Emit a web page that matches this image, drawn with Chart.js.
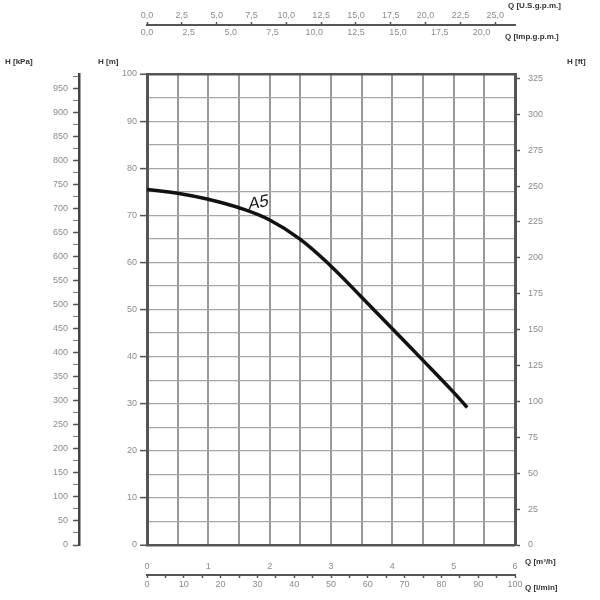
<!DOCTYPE html>
<html>
<head>
<meta charset="utf-8">
<script src="https://cdn.jsdelivr.net/npm/chart.js@4.4.1/dist/chart.umd.min.js"></script>
<style>
  html, body { margin: 0; padding: 0; background: #fff; }
</style>
</head>
<body>
<canvas id="pump" width="600" height="600"></canvas>
<script>
// pump curve A5 - flow in m3/h, head in m
const flowQ = [0, 0.5, 1.0, 1.5, 2.0, 2.5, 3.0, 3.5, 4.0, 4.5, 5.0, 5.22];
const headH = [75.5, 74.7, 73.4, 71.6, 69.0, 64.9, 59.2, 52.6, 45.9, 39.2, 32.4, 29.2];
const curveName = 'A5';

// tick labels of the secondary scales
const lminTicks = [0, 5, 10, 15, 20, 25, 30, 35, 40, 45, 50, 55, 60, 65, 70, 75, 80, 85, 90, 95, 100];
const usgpmTicks = [0, 2.5, 5, 7.5, 10, 12.5, 15, 17.5, 20, 22.5, 25];
const impgpmTicks = [0, 2.5, 5, 7.5, 10, 12.5, 15, 17.5, 20];
const kpaTicks = [0, 25, 50, 75, 100, 125, 150, 175, 200, 225, 250, 275, 300, 325, 350, 375, 400, 425, 450,
                  475, 500, 525, 550, 575, 600, 625, 650, 675, 700, 725, 750, 775, 800, 825, 850, 875, 900, 925, 950, 975];
const ftTicks = [0, 25, 50, 75, 100, 125, 150, 175, 200, 225, 250, 275, 300, 325];

// unit factors against m3/h and m
const Q_MAX = 6;
const H_MAX = 100;
const LMIN = 1000 / 60;
const USGPM = 4.40287;
const IMPGPM = 3.66615;
const KPA = 9.80665;
const FT = 3.28084;

Chart.defaults.font.family = '"Liberation Sans", Arial, sans-serif';
Chart.defaults.font.size = 9;
Chart.defaults.color = '#8c8c8c';

const comma = v => v.toFixed(1).replace('.', ',');
const setTicks = list => scale => { scale.ticks = list.map(v => ({value: v})); };
const fixWidth = w => scale => { scale.width = w; };
const fixHeight = h => scale => { scale.height = h; };

// axis titles and curve name
const labelsPlugin = {
  id: 'labels',
  afterDraw(chart) {
    const ctx = chart.ctx;
    ctx.save();
    ctx.fillStyle = '#333';
    ctx.font = 'bold 8px "Liberation Sans", Arial, sans-serif';
    ctx.textBaseline = 'middle';
    ctx.textAlign = 'left';
    ctx.fillText('H [kPa]', 5, 62);
    ctx.fillText('H [m]', 98, 62);
    ctx.fillText('H [ft]', 567, 62);
    ctx.fillText('Q [U.S.g.p.m.]', 508, 6);
    ctx.fillText('Q [Imp.g.p.m.]', 505, 37);
    ctx.fillText('Q [m\u00b3/h]', 525, 562);
    ctx.fillText('Q [l/min]', 525, 588);

    const x = chart.scales.x.getPixelForValue(1.82);
    const y = chart.scales.y.getPixelForValue(72.6);
    ctx.translate(x, y);
    ctx.rotate(-0.2);
    ctx.transform(1, 0, -0.25, 1, 0, 0);
    ctx.fillStyle = '#1a1a1a';
    ctx.font = '17px "Liberation Sans", Arial, sans-serif';
    ctx.textAlign = 'center';
    ctx.fillText(curveName, 0, 0);
    ctx.restore();
  }
};

const config = {
  type: 'line',
  data: {
    labels: flowQ,
    datasets: [{
      label: curveName,
      data: flowQ.map((q, i) => ({x: q, y: headH[i]})),
      borderColor: '#111',
      borderWidth: 3.5,
      pointRadius: 0,
      tension: 0.4,
      fill: false
    }]
  },
  options: {
    responsive: false,
    animation: false,
    layout: {padding: 0},
    plugins: {
      legend: {display: false},
      tooltip: {enabled: false}
    },
    scales: {
      x: {
        type: 'linear',
        position: 'bottom',
        weight: 1,
        min: 0,
        max: Q_MAX,
        afterFit: fixHeight(30),
        ticks: {
          stepSize: 0.5,
          padding: 16,
          maxRotation: 0,
          autoSkip: false,
          callback: v => Number.isInteger(v) ? String(v) : ''
        },
        grid: {
          drawTicks: false,
          color: ctx => (ctx.tick && (ctx.tick.value === 0 || ctx.tick.value === Q_MAX)) ? '#555' : '#999',
          lineWidth: ctx => (ctx.tick && (ctx.tick.value === 0 || ctx.tick.value === Q_MAX)) ? 3 : 2
        },
        border: {display: false}
      },
      xl: {
        type: 'linear',
        position: 'bottom',
        weight: 2,
        min: 0,
        max: Q_MAX * LMIN,
        afterBuildTicks: setTicks(lminTicks),
        afterFit: fixHeight(25),
        ticks: {
          padding: 1,
          maxRotation: 0,
          autoSkip: false,
          callback: v => v % 10 === 0 ? String(v) : ''
        },
        grid: {drawOnChartArea: false, tickLength: 3, tickColor: '#555', tickWidth: 1.5},
        border: {color: '#555', width: 2}
      },
      xus: {
        type: 'linear',
        position: 'top',
        weight: 3,
        min: 0,
        max: Q_MAX * USGPM,
        afterBuildTicks: setTicks(usgpmTicks),
        afterFit: fixHeight(25),
        ticks: {padding: 1, maxRotation: 0, autoSkip: false, callback: v => comma(v)},
        grid: {drawOnChartArea: false, tickLength: 3, tickColor: '#555', tickWidth: 1.5},
        border: {color: '#555', width: 2}
      },
      ximp: {
        type: 'linear',
        position: 'top',
        weight: 2,
        min: 0,
        max: Q_MAX * IMPGPM,
        afterBuildTicks: setTicks(impgpmTicks),
        afterFit: fixHeight(13),
        ticks: {padding: 0, maxRotation: 0, autoSkip: false, callback: v => comma(v)},
        grid: {display: false, drawTicks: false},
        border: {display: false}
      },
      xgap: {
        type: 'linear',
        position: 'top',
        weight: 1,
        min: 0,
        max: 1,
        afterFit: fixHeight(36),
        ticks: {display: false},
        grid: {display: false, drawTicks: false},
        border: {display: false}
      },
      y: {
        type: 'linear',
        position: 'left',
        weight: 1,
        min: 0,
        max: H_MAX,
        afterFit: fixWidth(68),
        ticks: {
          stepSize: 5,
          padding: 3,
          autoSkip: false,
          callback: v => v % 10 === 0 ? String(v) : ''
        },
        grid: {
          tickLength: 7,
          tickColor: ctx => (ctx.tick && ctx.tick.value % 10 === 0) ? '#555' : 'rgba(0,0,0,0)',
          tickWidth: 1.5,
          color: ctx => (ctx.tick && (ctx.tick.value === 0 || ctx.tick.value === H_MAX)) ? '#555' : '#a6a6a6',
          lineWidth: ctx => (ctx.tick && (ctx.tick.value === 0 || ctx.tick.value === H_MAX)) ? 2.5 : 1.2
        },
        border: {color: '#555', width: 3}
      },
      ykpa: {
        type: 'linear',
        position: 'left',
        weight: 2,
        min: 0,
        max: H_MAX * KPA,
        afterBuildTicks: setTicks(kpaTicks),
        afterFit: fixWidth(79),
        ticks: {
          padding: 5,
          autoSkip: false,
          callback: v => v % 50 === 0 ? String(v) : ''
        },
        grid: {
          drawOnChartArea: false,
          tickLength: 6,
          tickColor: '#555',
          tickWidth: ctx => (ctx.tick && ctx.tick.value % 50 === 0) ? 1.5 : 0.8
        },
        border: {color: '#444', width: 2.5}
      },
      yft: {
        type: 'linear',
        position: 'right',
        min: 0,
        max: H_MAX * FT,
        afterBuildTicks: setTicks(ftTicks),
        afterFit: fixWidth(85),
        ticks: {padding: 8, autoSkip: false, callback: v => String(v)},
        grid: {drawOnChartArea: false, tickLength: 5, tickColor: '#555', tickWidth: 1.5},
        border: {color: '#555', width: 3}
      }
    }
  },
  plugins: [labelsPlugin]
};

const pumpChart = new Chart(document.getElementById('pump'), config);
</script>
</body>
</html>
